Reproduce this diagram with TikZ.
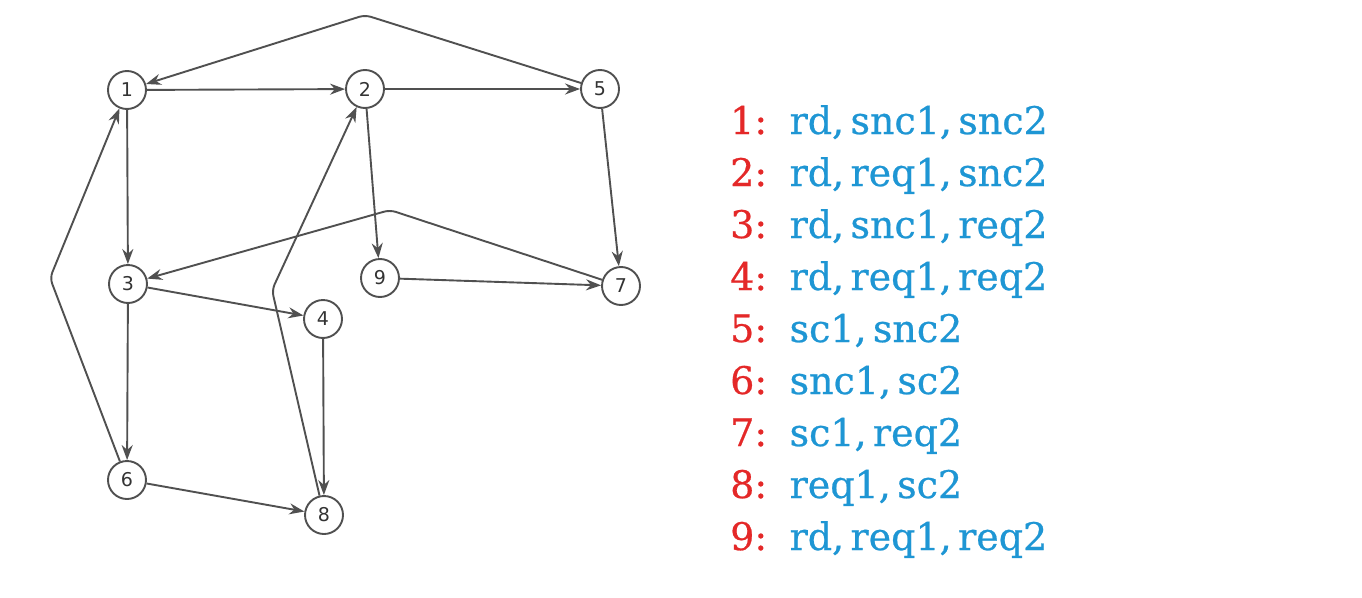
\documentclass[tikz,border=0pt]{standalone}
\usepackage{fontspec}
\setmainfont{DejaVu Serif}
\newfontfamily\labfont[FakeBold=0.6]{DejaVu Serif}
\newfontfamily\nodefont{DejaVu Sans}
\usetikzlibrary{arrows.meta}
\definecolor{nred}{RGB}{228,40,40}
\definecolor{nblue}{RGB}{30,150,212}
\definecolor{edgegray}{RGB}{80,80,80}
\tikzset{
  vert/.style={circle,draw=edgegray,line width=1.9pt,minimum size=38pt,inner sep=0pt,fill=white,font=\nodefont\fontsize{19}{19}\selectfont,text=black!80},
  edge/.style={draw=edgegray,line width=1.9pt,-{Stealth[length=15pt,width=11pt]},rounded corners=6pt},
  lab/.style={anchor=base west,inner sep=0pt,font=\labfont\fontsize{38}{38}\selectfont},
}
\begin{document}
\begin{tikzpicture}[x=1pt,y=-1pt]
\useasboundingbox[fill=white] (0,0) rectangle (1362,597);
\node[vert] (n1) at (127,90) {1};
\node[vert] (n2) at (365,89) {2};
\node[vert] (n5) at (600,89) {5};
\node[vert] (n3) at (128,284) {3};
\node[vert] (n9) at (380,278) {9};
\node[vert] (n7) at (621,286) {7};
\node[vert] (n4) at (323,319) {4};
\node[vert] (n6) at (127,480) {6};
\node[vert] (n8) at (324,515) {8};
\coordinate (b51) at (365,15);
\coordinate (b61) at (50,278);
\coordinate (b82) at (272,290);
\coordinate (b73) at (390,210);
\draw[edge] (n1) -- (n2);
\draw[edge] (n2) -- (n5);
\draw[edge] (n5) -- (b51) -- (n1);
\draw[edge] (n1) -- (n3);
\draw[edge] (n3) -- (n6);
\draw[edge] (n6) -- (b61) -- (n1);
\draw[edge] (n3) -- (n4);
\draw[edge] (n4) -- (n8);
\draw[edge] (n6) -- (n8);
\draw[edge] (n8) -- (b82) -- (n2);
\draw[edge] (n2) -- (n9);
\draw[edge] (n9) -- (n7);
\draw[edge] (n5) -- (n7);
\draw[edge] (n7) -- (b73) -- (n3);
\node[lab] (t1) at (730,134) {\textcolor{nred}{1:}\, \textcolor{nblue}{rd,\,snc1,\,snc2}};
\node[lab] (t2) at (730,186) {\textcolor{nred}{2:}\, \textcolor{nblue}{rd,\,req1,\,snc2}};
\node[lab] (t3) at (730,238) {\textcolor{nred}{3:}\, \textcolor{nblue}{rd,\,snc1,\,req2}};
\node[lab] (t4) at (730,290) {\textcolor{nred}{4:}\, \textcolor{nblue}{rd,\,req1,\,req2}};
\node[lab] (t5) at (730,342) {\textcolor{nred}{5:}\, \textcolor{nblue}{sc1,\,snc2}};
\node[lab] (t6) at (730,394) {\textcolor{nred}{6:}\, \textcolor{nblue}{snc1,\,sc2}};
\node[lab] (t7) at (730,446) {\textcolor{nred}{7:}\, \textcolor{nblue}{sc1,\,req2}};
\node[lab] (t8) at (730,498) {\textcolor{nred}{8:}\, \textcolor{nblue}{req1,\,sc2}};
\node[lab] (t9) at (730,550) {\textcolor{nred}{9:}\, \textcolor{nblue}{rd,\,req1,\,req2}};
\end{tikzpicture}
\end{document}
